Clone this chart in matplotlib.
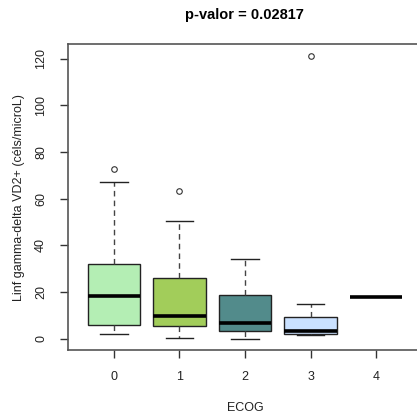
import matplotlib.pyplot as plt

plt.rcParams['font.family'] = ['Liberation Sans', 'DejaVu Sans']

# ECOG groups and box statistics
groups = ['0', '1', '2', '3', '4']
q1 = [5.9, 5.4, 3.4, 2.1, 17.9]
med = [18.1, 9.7, 6.6, 3.1, 17.9]
q3 = [32.0, 25.9, 18.7, 9.4, 17.9]
whis_lo = [2.0, 0.3, 0.0, 1.7, 17.9]
whis_hi = [67.2, 50.4, 34.2, 14.9, 17.9]
outliers = [[72.9], [63.3], [], [121.3], []]
colors = ['#B4EEB4', '#A2CD5A', '#528B8B', '#CAE1FF', '#FFFFFF']

stats = []
for i in range(len(groups)):
    stats.append(dict(med=med[i], q1=q1[i], q3=q3[i], whislo=whis_lo[i],
                      whishi=whis_hi[i], fliers=outliers[i], label=groups[i]))

fig = plt.figure(figsize=(4.17, 4.15), dpi=100)
ax = fig.add_axes([0.163, 0.157, 0.849, 0.736])

bp = ax.bxp(stats, positions=range(1, 6), widths=0.8, patch_artist=True,
            capwidths=0.42,
            boxprops=dict(edgecolor='#222222', linewidth=1.0),
            medianprops=dict(color='black', linewidth=2.6, solid_capstyle='butt'),
            whiskerprops=dict(color='#444444', linestyle=(0, (4, 3)), linewidth=1.0),
            capprops=dict(color='#222222', linewidth=1.0),
            flierprops=dict(marker='o', markersize=4, markerfacecolor='none',
                            markeredgecolor='#333333', markeredgewidth=0.8))
for patch, c in zip(bp['boxes'], colors):
    patch.set_facecolor(c)
# single-value group: only the median line is drawn
bp['boxes'][4].set_visible(False)
bp['whiskers'][8].set_visible(False)
bp['whiskers'][9].set_visible(False)
bp['caps'][8].set_visible(False)
bp['caps'][9].set_visible(False)

ax.set_xlim(0.3, 5.7)
ax.set_ylim(-4.85, 126.2)
ax.set_yticks([0, 20, 40, 60, 80, 100, 120])
ax.set_xticks(range(1, 6))
ax.set_xticklabels(groups)
ax.tick_params(axis='both', length=6, width=1.0, color='#333333',
               labelsize=9, labelcolor='#222222', pad=9)
for lab in ax.get_yticklabels():
    lab.set_rotation(90)
    lab.set_va('center')
for sp in ax.spines.values():
    sp.set_color('#555555')
    sp.set_linewidth(1.2)
# the box runs past the right edge of the picture
ax.spines['right'].set_visible(False)

ax.set_xlabel('ECOG', fontsize=9, color='#222222', labelpad=14)
ax.set_ylabel('Linf gamma-delta VD2+ (céls/microL)', fontsize=9,
              color='#222222', labelpad=7)
fig.text(0.585, 0.963, 'p-valor = 0.02817', fontsize=10.5, fontweight='bold',
         ha='center', va='center')

fig.savefig('out.png', dpi=100)
